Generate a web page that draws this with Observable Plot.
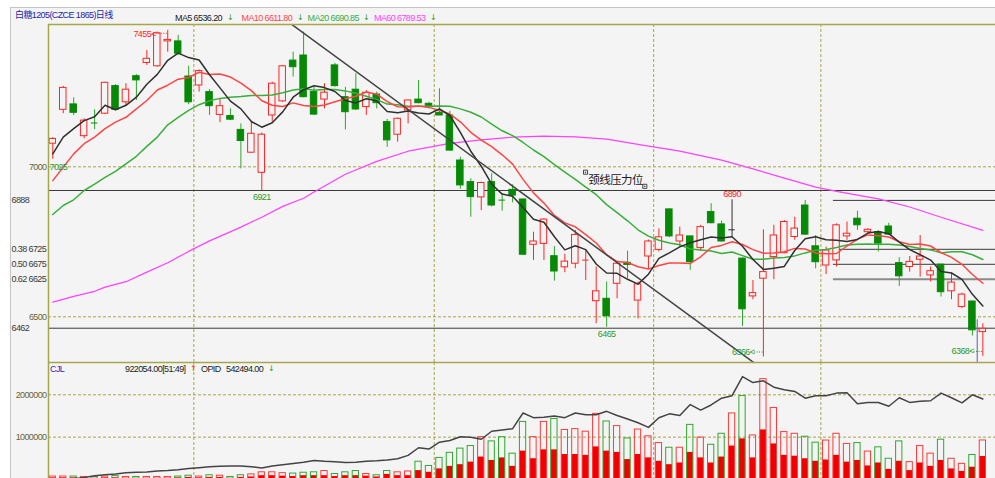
<!DOCTYPE html>
<html>
<head>
<meta charset="utf-8">
<script src="https://cdn.jsdelivr.net/npm/d3@7"></script>
<script src="https://cdn.jsdelivr.net/npm/@observablehq/plot@0.6"></script>
<style>
html,body{margin:0;padding:0;background:#fff;}
#wrap{position:relative;width:995px;height:478px;overflow:hidden;background:#fff;font-family:"Liberation Sans","Noto Sans CJK SC",sans-serif;}
#panel{position:absolute;left:10px;top:7px;right:0;bottom:0;background:#f4f4f4;border-top:1px solid #c4c4c4;border-left:1px solid #c4c4c4;}
.lbl{position:absolute;font-size:9px;letter-spacing:-0.6px;white-space:nowrap;line-height:10px;}
.arr{position:absolute;font-size:8px;line-height:10px;font-family:"DejaVu Sans",sans-serif;}
#price,#vol{position:absolute;left:0;}
#price{top:0}
#vol{top:362px}
#wrap svg text{letter-spacing:-0.6px;}
</style>
</head>
<body>
<div id="wrap">
  <div id="panel"></div>
  <div id="price"></div>
  <div id="vol"></div>
  <div id="hdr"></div>
</div>
<script>
// ---------------- data ----------------
const opens = [
7077,7190,7208,7102,7148,7177,7269,7215,7302,7346,
7335,7418,7418,7301,7271,7249,7173,7169,7123,7047,
6980,7171,7218,7354,7371,7249,7224,7338,7232,7257,
7199,7241,7149,7107,7188,7224,7210,7180,7171,7021,
6949,6898,6949,6891,6923,6891,6740,6743,6702,6665,
6677,6687,6552,6560,6610,6680,6554,6701,6723,6858,
6751,6768,6729,6849,6808,6790,6694,6568,6627,6699,
6712,6766,6871,6735,6671,6688,6768,6827,6782,6782,
6801,6679,6666,6690,6638,6674,6585,6533,6551,6449];
const highs = [
7097,7268,7230,7160,7190,7282,7274,7277,7307,7388,
7449,7455,7438,7335,7323,7258,7224,7193,7143,7149,
7113,7282,7338,7382,7449,7265,7277,7345,7265,7310,
7254,7249,7158,7163,7223,7288,7215,7260,7185,7032,
6960,6949,6977,6910,6940,6893,6782,6827,6734,6708,
6788,6721,6666,6616,6682,6719,6616,6756,6793,6860,
6799,6768,6805,6877,6819,6890,6697,6621,6790,6805,
6821,6832,6888,6771,6732,6810,6816,6852,6794,6786,
6812,6697,6701,6771,6666,6674,6646,6579,6551,6477];
const lows = [
7025,7177,7171,7093,7124,7174,7186,7204,7221,7338,
7332,7382,7371,7207,7249,7171,7147,7154,6993,7045,
6921,7149,7215,7299,7230,7171,7193,7265,7123,7188,
7171,7193,7065,7082,7143,7210,7193,7171,7052,6925,
6832,6854,6866,6852,6880,6704,6688,6688,6619,6647,
6660,6621,6477,6465,6560,6627,6493,6660,6716,6764,
6732,6655,6718,6810,6749,6766,6468,6557,6366,6624,
6710,6755,6771,6660,6641,6666,6755,6788,6777,6716,
6771,6601,6649,6632,6616,6566,6557,6527,6436,6368];
const closes = [
7093,7263,7180,7154,7146,7280,7190,7257,7288,7360,
7445,7423,7377,7215,7319,7202,7202,7157,7086,7110,
7107,7277,7335,7332,7232,7174,7247,7269,7182,7191,
7247,7212,7088,7160,7221,7212,7199,7171,7054,6938,
6899,6946,6871,6889,6904,6707,6751,6824,6651,6684,
6773,6689,6585,6502,6677,6673,6608,6751,6765,6768,
6771,6682,6799,6812,6751,6790,6525,6579,6649,6771,
6816,6794,6774,6682,6721,6805,6777,6805,6790,6744,
6774,6635,6683,6701,6652,6582,6614,6574,6455,6460];

const ma5 = [
7043,7099,7127,7154,7167,7205,7190,7205,7232,7275,
7308,7355,7379,7364,7356,7307,7263,7219,7193,7151,
7132,7147,7183,7232,7257,7270,7264,7251,7221,7213,
7227,7220,7184,7180,7186,7179,7176,7193,7171,7115,
7052,7002,6942,6909,6902,6864,6825,6815,6767,6723,
6737,6724,6676,6646,6645,6625,6609,6642,6695,6713,
6733,6747,6757,6766,6763,6767,6735,6691,6658,6662,
6668,6721,6760,6767,6757,6755,6751,6758,6779,6784,
6777,6749,6724,6707,6689,6651,6646,6625,6575,6536];
const ma10 = [
6954,6999,7043,7077,7099,7127,7149,7165,7193,7221,
7256,7272,7292,7298,7315,7308,7309,7299,7279,7254,
7220,7205,7201,7213,7204,7201,7206,7217,7227,7235,
7249,7242,7217,7200,7199,7203,7198,7188,7176,7150,
7115,7089,7067,7040,7009,6958,6913,6879,6838,6813,
6800,6774,6746,6707,6684,6681,6667,6659,6671,6679,
6679,6678,6700,6731,6738,6750,6741,6724,6712,6713,
6717,6728,6726,6713,6710,6711,6736,6759,6773,6770,
6766,6750,6741,6743,6736,6714,6698,6675,6641,6612];
const ma20 = [
6841,6871,6890,6921,6942,6965,6985,7010,7035,7068,
7099,7140,7165,7188,7207,7220,7228,7232,7234,7238,
7238,7239,7247,7256,7260,7255,7258,7258,7253,7245,
7235,7224,7209,7207,7202,7202,7202,7203,7202,7193,
7182,7166,7142,7120,7104,7081,7056,7034,7007,6982,
6958,6932,6907,6874,6847,6820,6790,6769,6755,6746,
6740,6726,6723,6719,6711,6716,6704,6692,6692,6696,
6698,6703,6713,6722,6724,6731,6739,6742,6743,6742,
6742,6739,6734,6728,6723,6713,6717,6717,6707,6691];
const ma60Idx = [0,2,4,5,7,9,11,13,15,18,20,22,24,25,28,31,34,38,41,44,47,50,53,56,60,64,67,70,73,75,79,82,85,89];
const ma60Val = [6549,6568,6585,6599,6617,6649,6680,6718,6753,6799,6832,6868,6895,6916,6975,7018,7052,7078,7090,7099,7102,7100,7092,7075,7052,7022,6993,6962,6932,6918,6893,6866,6832,6788];

const volume = [
70000,70000,70000,60000,60000,70000,80000,60000,60000,60000,
60000,60000,70000,90000,70000,100000,90000,60000,100000,120000,
170000,170000,150000,140000,160000,170000,200000,130000,170000,200000,
130000,100000,200000,170000,190000,420000,320000,510000,630000,730000,
790000,1000000,900000,1000000,610000,1360000,1000000,1360000,1430000,1170000,
1190000,1130000,1550000,1370000,1260000,970000,1180000,1020000,860000,750000,
750000,1290000,990000,820000,1080000,1560000,1970000,1040000,2370000,1690000,
1120000,1080000,1010000,870000,920000,1080000,840000,860000,660000,760000,
490000,900000,410000,790000,610000,940000,490000,370000,580000,922054];
const opid = [
40000,40000,40000,30000,30000,40000,40000,30000,30000,30000,
30000,30000,40000,50000,40000,50000,50000,30000,50000,60000,
90000,90000,80000,70000,90000,90000,90000,70000,90000,90000,
80000,60000,120000,90000,90000,210000,170000,250000,310000,350000,
410000,530000,450000,510000,310000,670000,490000,700000,700000,590000,
590000,570000,770000,670000,640000,470000,590000,510000,430000,350000,
390000,640000,510000,390000,530000,790000,960000,510000,1170000,840000,
570000,550000,490000,430000,460000,570000,410000,450000,320000,390000,
240000,430000,210000,390000,310000,450000,250000,190000,290000,542494];
const openInterest = [
20000,20000,20000,50000,90000,110000,130000,160000,170000,180000,
200000,210000,230000,260000,280000,300000,310000,320000,320000,300000,
270000,320000,350000,380000,410000,450000,430000,420000,400000,410000,
430000,440000,460000,490000,570000,750000,720000,880000,920000,1010000,
1000000,950000,1140000,1170000,1200000,1570000,1460000,1470000,1500000,1460000,
1570000,1530000,1530000,1610000,1510000,1430000,1340000,1230000,1460000,1550000,
1510000,1770000,1640000,1760000,1920000,1980000,2430000,2290000,2330000,2180000,
2120000,2080000,1920000,1980000,1980000,2040000,2050000,1790000,1820000,1820000,
1730000,1930000,1820000,1850000,1860000,2040000,1930000,1810000,2000000,1900000];

const monthBreaks = [13.5, 36.5, 57.5, 73.5];
const gridPrices = [7000, 6500];
const levelValues = [6888, 6725, 6675, 6625, 6462];
const levelTexts = ["6888", "0.38 6725", "0.50 6675", "0.62 6625", "6462"];
const fullLines = [6921, 6462];
const fibLines = [6888, 6725, 6675];
const fibHeavy = [6625];
const fibStart = 74.7;
const trendIdx = [22.89, 67.05];
const trendVal = [7474, 6348];
const volTicks = [2000000, 1000000];
const edgeLowIdx = [0];
const lowLabelIdx = [20, 53];
const highLabelIdx = [65];
const lowArrowIdx = [68, 89];
const highArrowIdx = [11];
const noteText = ["颈线压力位"];
const noteIdx = [51.25];
const noteVal = [6954];
const handleIdx = [50.98, 56.65];
const handleVal = [6982, 6935];
const cursorIdx = [88.46];
const cursorTop = 6490;

const maNames = ["MA5", "MA10", "MA20", "MA60"];
const maLast = ["6536.20", "6611.80", "6690.85", "6789.53"];
const title = "白糖1205(CZCE 1865)日线";
const volHeader = ["CJL", "922054.00[51:49]", "OPID", "542494.00"];

// ---------------- styles ----------------
const BG = "#f4f4f4", OLIVE = "#a6a64c", LBL_OLIVE = "#66663a", DARK = "#3a3a3a";
const UP = "#ff2424", DOWN = "#068a06", WICKDN = "#2ea52e", FLAT = "#303030";
const LOWTXT = "#2a9a2a";
const MA_COLORS = ["#303030", "#ff4545", "#3aae3a", "#ff40ff"];
const FONT = "Liberation Sans";
const X0 = -0.411, X1 = 90.21;
const PY = [6347.7, 7474.3];
const HW = 0.31;

const candles = opens.map((o, i) => ({i, o, h: highs[i], l: lows[i], c: closes[i]}));
const bodyColor = d => d.c > d.o ? UP : d.c < d.o ? DOWN : FLAT;
const wickColor = d => d.c > d.o ? UP : d.c < d.o ? WICKDN : FLAT;
const bodies = candles.filter(d => Math.abs(d.c - d.o) >= 3);
const dojis = candles.filter(d => Math.abs(d.c - d.o) < 3);
const maSeries = [ma5, ma10, ma20].map(arr => arr.map((v, i) => ({i, v})));
const ma60 = ma60Idx.map((i, k) => ({i, v: ma60Val[k]}));
const trend = trendIdx.map((i, k) => ({i, v: trendVal[k]}));
const levels = levelValues.map((v, k) => ({v, t: levelTexts[k]}));
const notes = noteText.map((t, k) => ({t, i: noteIdx[k], v: noteVal[k]}));
const handles = handleIdx.map((i, k) => ({i, v: handleVal[k]}));

const xScale = {type: "linear", domain: [X0, X1], axis: null};
const txt = {fontFamily: FONT, fontSize: 9};

const price = Plot.plot({
  width: 995, height: 362, marginLeft: 48, marginRight: 0, marginTop: 24, marginBottom: 0,
  x: xScale, y: {domain: PY, axis: null}, color: {type: "identity"},
  style: {background: "transparent", overflow: "visible"},
  marks: [
    Plot.ruleY(gridPrices, {stroke: OLIVE, strokeDasharray: "3,2"}),
    Plot.ruleX(monthBreaks, {stroke: OLIVE, strokeDasharray: "3,2"}),
    Plot.ruleY(fullLines, {stroke: DARK}),
    Plot.ruleY(fibLines, {x1: fibStart, x2: X1, stroke: DARK}),
    Plot.ruleY(fibHeavy, {x1: fibStart, x2: X1, stroke: "#8a8a8a", strokeWidth: 2}),
    Plot.line(ma60, {x: "i", y: "v", stroke: MA_COLORS[3], strokeWidth: 1.2}),
    Plot.ruleX(candles, {x: "i", y1: "l", y2: "h", stroke: wickColor}),
    Plot.rect(bodies, {x1: d => d.i - HW, x2: d => d.i + HW,
      y1: d => Math.min(d.o, d.c), y2: d => Math.max(d.o, d.c),
      fill: d => d.c > d.o ? BG : DOWN, stroke: bodyColor}),
    Plot.ruleY(dojis, {x1: d => d.i - HW, x2: d => d.i + HW, y: "c", stroke: bodyColor}),
    Plot.line(maSeries[2], {x: "i", y: "v", stroke: MA_COLORS[2]}),
    Plot.line(maSeries[1], {x: "i", y: "v", stroke: MA_COLORS[1]}),
    Plot.line(maSeries[0], {x: "i", y: "v", stroke: MA_COLORS[0]}),
    Plot.line(trend, {x: "i", y: "v", stroke: "#444"}),
    Plot.ruleX(cursorIdx, {y1: cursorTop, y2: PY[0], stroke: "#5b5bb8"}),
    // extreme labels
    Plot.text(edgeLowIdx.map(i => candles[i]), {x: X0, y: "l", text: d => String(d.l), textAnchor: "start", dx: 1, dy: 8, fill: LOWTXT, ...txt}),
    Plot.text(lowLabelIdx.map(i => candles[i]), {x: "i", y: "l", text: d => String(d.l), dy: 7, fill: LOWTXT, ...txt}),
    Plot.text(highLabelIdx.map(i => candles[i]), {x: "i", y: "h", text: d => String(d.h), dy: -6, fill: UP, ...txt}),
    Plot.text(lowArrowIdx.map(i => candles[i]), {x: "i", y: "l", text: d => d.l + "<", textAnchor: "end", dx: -9, dy: -5, fill: LOWTXT, ...txt}),
    Plot.ruleY(lowArrowIdx.map(i => candles[i]), {x1: d => d.i - 0.85, x2: "i", y: "l", dy: -5, stroke: LOWTXT, strokeDasharray: "1,1.5"}),
    Plot.text(highArrowIdx.map(i => candles[i]), {x: "i", y: "h", text: d => d.h + "<", textAnchor: "end", dx: -12, dy: 4, fill: UP, ...txt}),
    Plot.ruleY(highArrowIdx.map(i => candles[i]), {x1: d => d.i - 1.1, x2: "i", y: "h", dy: 3, stroke: UP, strokeDasharray: "1,1.5"}),
    // neckline note
    Plot.text(notes, {x: "i", y: "v", text: "t", textAnchor: "start", fill: "#202020", fontFamily: "Noto Sans CJK SC", fontSize: 11.5}),
    Plot.dot(handles, {x: "i", y: "v", symbol: "square", r: 2.3, stroke: "#333", fill: "none", strokeWidth: 0.9}),
    Plot.dot(handles, {x: "i", y: "v", r: 0.7, fill: "#333"}),
    // axis labels
    Plot.text(gridPrices, {x: X0, y: d => d, text: d => String(d), textAnchor: "end", dx: -2, fill: LBL_OLIVE, ...txt}),
    Plot.text(levels, {x: X0, y: "v", text: "t", textAnchor: "start", dx: -37, fill: DARK, ...txt}),
    // frame
    Plot.ruleY([PY[1]], {stroke: OLIVE, strokeWidth: 1.5}),
    Plot.ruleY([PY[0]], {stroke: OLIVE, strokeWidth: 1.5}),
    Plot.ruleX([X0], {stroke: OLIVE, strokeWidth: 1.5})
  ]
});
document.getElementById("price").append(price);

const volData = volume.map((v, i) => ({i, v, f: opid[i], oi: openInterest[i], up: closes[i] >= opens[i]}));
const vol = Plot.plot({
  width: 995, height: 117, marginLeft: 48, marginRight: 0, marginTop: 0, marginBottom: 0,
  x: xScale, y: {domain: [0, 2763000], axis: null}, color: {type: "identity"},
  style: {background: "transparent", overflow: "visible"},
  marks: [
    Plot.ruleY(volTicks, {stroke: OLIVE, strokeDasharray: "3,2"}),
    Plot.ruleX(monthBreaks, {stroke: OLIVE, strokeDasharray: "3,2"}),
    Plot.rect(volData, {x1: d => d.i - 0.3, x2: d => d.i + 0.3, y1: 0, y2: "f", fill: "#f00000"}),
    Plot.rect(volData, {x1: d => d.i - 0.3, x2: d => d.i + 0.3, y1: 0, y2: "v", fill: "none",
      stroke: d => d.up ? "#ff3a3a" : "#2fa82f"}),
    Plot.line(volData, {x: "i", y: "oi", stroke: "#444"}),
    Plot.text(volTicks, {x: X0, y: d => d, text: d => String(d), textAnchor: "end", dx: -2, fill: LBL_OLIVE, ...txt}),
    Plot.ruleX([X0], {stroke: OLIVE, strokeWidth: 1.5})
  ]
});
document.getElementById("vol").append(vol);

// ---------------- header texts ----------------
const hdr = document.getElementById("hdr");
function addLbl(text, left, top, color, cls = "lbl") {
  const s = document.createElement("div");
  s.className = cls; s.textContent = text;
  s.style.left = left + "px"; s.style.top = top + "px"; s.style.color = color;
  hdr.append(s);
}
addLbl(title, 15, 10, "#1e1ea8");
const maLeft = [175, 241.5, 307.5, 374];
const maArrow = [227, 297, 363, 430];
maNames.forEach((n, k) => {
  addLbl(n + " " + maLast[k], maLeft[k], 12.5, MA_COLORS[k] === "#303030" ? "#222" : MA_COLORS[k]);
  addLbl("↓", maArrow[k], 12.5, "#2a9a2a", "arr");
});
addLbl(volHeader[0], 50, 364, "#2a2ab0");
addLbl(volHeader[1], 125, 364, "#222");
addLbl("↑", 190, 364, "#ff2020", "arr");
addLbl(volHeader[2], 201, 364, "#222");
addLbl(volHeader[3], 226, 364, "#222");
addLbl("↓", 268, 364, "#2a9a2a", "arr");
</script>
</body>
</html>
